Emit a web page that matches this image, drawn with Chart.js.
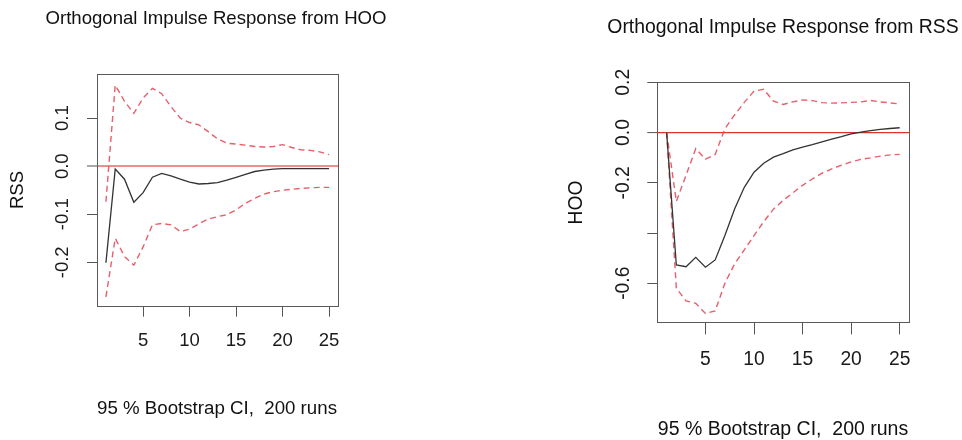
<!DOCTYPE html>
<html><head><meta charset="utf-8">
<script src="https://cdn.jsdelivr.net/npm/chart.js@4.4.1/dist/chart.umd.min.js"></script>
<style>
html,body{margin:0;padding:0;background:#fff;width:962px;height:440px;overflow:hidden;}
.wrap{position:absolute;top:0;width:481px;height:440px;}
canvas{position:absolute;top:0;left:0;}
.txt{position:absolute;font-family:"Liberation Sans",Arial,Helvetica,sans-serif;color:#111;white-space:nowrap;transform:translate(-50%,-50%);line-height:1;}
</style></head><body>
<div class="wrap" style="left:0"><canvas id="c1" width="481" height="440"></canvas></div>
<div class="wrap" style="left:481px"><canvas id="c2" width="481" height="440"></canvas></div>
<div class="txt" style="left:216px;top:18px;font-size:18.6px">Orthogonal Impulse Response from HOO</div>
<div class="txt" style="left:783px;top:27px;font-size:19.4px">Orthogonal Impulse Response from RSS</div>
<div class="txt" style="left:217px;top:408px;font-size:18.7px">95 % Bootstrap CI,&nbsp; 200 runs</div>
<div class="txt" style="left:783px;top:429px;font-size:19.5px">95 % Bootstrap CI,&nbsp; 200 runs</div>
<script>
// ---- data ----
const steps = [1,2,3,4,5,6,7,8,9,10,11,12,13,14,15,16,17,18,19,20,21,22,23,24,25];

const hooRssIrf   = [-0.201,-0.006,-0.027,-0.075,-0.055,-0.023,-0.015,-0.020,-0.027,-0.033,-0.037,-0.036,-0.034,-0.029,-0.023,-0.017,-0.011,-0.008,-0.006,-0.005,-0.005,-0.005,-0.005,-0.005,-0.005];
const hooRssUpper = [-0.074,0.169,0.135,0.110,0.142,0.162,0.151,0.124,0.100,0.091,0.086,0.072,0.057,0.048,0.046,0.044,0.041,0.040,0.041,0.045,0.039,0.034,0.033,0.030,0.024];
const hooRssLower = [-0.272,-0.150,-0.188,-0.206,-0.168,-0.122,-0.119,-0.122,-0.136,-0.131,-0.120,-0.110,-0.105,-0.101,-0.091,-0.077,-0.067,-0.058,-0.053,-0.050,-0.048,-0.046,-0.045,-0.044,-0.044];

const rssHooIrf   = [0.000,-0.527,-0.534,-0.497,-0.536,-0.507,-0.410,-0.304,-0.218,-0.158,-0.122,-0.098,-0.084,-0.069,-0.058,-0.048,-0.037,-0.026,-0.016,-0.005,0.002,0.008,0.013,0.016,0.019];
const rssHooUpper = [0.000,-0.274,-0.170,-0.064,-0.106,-0.087,0.015,0.070,0.120,0.165,0.172,0.125,0.112,0.122,0.130,0.127,0.119,0.117,0.118,0.120,0.122,0.128,0.122,0.118,0.114];
const rssHooLower = [0.000,-0.620,-0.670,-0.680,-0.720,-0.710,-0.600,-0.523,-0.467,-0.410,-0.355,-0.305,-0.270,-0.240,-0.210,-0.185,-0.162,-0.145,-0.130,-0.117,-0.107,-0.101,-0.094,-0.089,-0.087];

const xTicks = [5,10,15,20,25];
const xTickLabels = ['5','10','15','20','25'];
const leftYTicks = [-0.2,-0.1,0,0.1];
const leftYTickLabels = ['-0.2','-0.1','0.0','0.1'];
const rightYTicks = [-0.6,-0.4,-0.2,0,0.2];
const rightYTickLabels = ['-0.6','','-0.2','0.0','0.2'];

// ---- styling ----
Chart.defaults.font.family = '"Liberation Sans", Arial, Helvetica, sans-serif';
Chart.defaults.color = '#1a1a1a';
const FONT = '"Liberation Sans", Arial, Helvetica, sans-serif';

const boxPlugin = {
  id: 'rbox',
  afterDatasetsDraw(chart) {
    const a = chart.chartArea, ctx = chart.ctx;
    ctx.save();
    ctx.strokeStyle = '#5a5a5a';
    ctx.lineWidth = 1;
    ctx.strokeRect(Math.round(a.left)+0.5, Math.round(a.top)+0.5, Math.round(a.right-a.left), Math.round(a.bottom-a.top));
    ctx.restore();
  }
};

function toXY(arr){ return steps.map((s,i)=>({x:s,y:arr[i]})); }

function makeChart(id, cfg) {
  const ds = (arr, color, dash, w) => ({
    data: toXY(arr), borderColor: color, borderWidth: w, borderDash: dash,
    pointRadius: 0, tension: 0, fill: false
  });
  return new Chart(document.getElementById(id), {
    type: 'line',
    data: { datasets: [
      ds(cfg.irf, '#333333', [], 1.3),
      ds(cfg.upper, 'rgba(228,78,90,0.9)', [6,4], 1.4),
      ds(cfg.lower, 'rgba(228,78,90,0.9)', [6,4], 1.4)
    ]},
    options: {
      responsive: false, animation: false, devicePixelRatio: 1,
      layout: { padding: cfg.pad },
      plugins: { legend: {display:false}, tooltip: {enabled:false}, title:{display:false} },
      scales: {
        x: {
          type: 'linear', min: 0.04, max: 25.96, bounds: 'data',
          afterBuildTicks: s => { s.ticks = xTicks.map(v=>({value:v})); },
          afterFit: s => { s.height = 60; },
          ticks: { autoSkip:false, maxRotation:0, minRotation:0, padding: cfg.xPad,
                   font:{size:cfg.fs, family:FONT}, color:'#1a1a1a',
                   callback: (v,i) => xTickLabels[i] },
          grid: { drawOnChartArea:false, drawTicks:true, tickLength: cfg.tl, tickColor:'#555', tickWidth:1 },
          border: { display:false }
        },
        y: {
          type: 'linear', min: cfg.ymin, max: cfg.ymax, bounds: 'data',
          afterBuildTicks: s => { s.ticks = cfg.yTicks.map(v=>({value:v})); },
          afterFit: s => { s.width = cfg.yW; },
          ticks: { autoSkip:false, minRotation:90, maxRotation:90, crossAlign:'center', padding: cfg.yPad,
                   font:{size:cfg.fs, family:FONT}, color:'#1a1a1a',
                   callback: (v,i) => cfg.yLabels[i] },
          grid: { drawOnChartArea:true, drawTicks:true, tickLength: 10, tickColor:'#555', tickWidth:1,
                  color: c => (c.tick && c.tick.value === 0) ? cfg.zeroColor : 'rgba(0,0,0,0)',
                  lineWidth: c => (c.tick && c.tick.value === 0) ? cfg.zeroW : 1 },
          border: { display:false },
          title: { display:true, text: cfg.yTitle, color:'#111', font:{size:cfg.fs, family:FONT},
                   padding:{top: cfg.titlePad, bottom:0} }
        }
      }
    },
    plugins: [boxPlugin]
  });
}

makeChart('c1', {
  irf: hooRssIrf, upper: hooRssUpper, lower: hooRssLower,
  ymin: -0.291, ymax: 0.192, yTicks: leftYTicks, yLabels: leftYTickLabels, yTitle: 'RSS',
  pad: {left:0, top:74, right:143, bottom:74}, yW: 97, fs: 18.5, tl: 10.7,
  xPad: 13.5, yPad: 8, titlePad: 7, zeroColor: 'rgb(245,140,140)', zeroW: 2
});
makeChart('c2', {
  irf: rssHooIrf, upper: rssHooUpper, lower: rssHooLower,
  ymin: -0.757, ymax: 0.2, yTicks: rightYTicks, yLabels: rightYTickLabels, yTitle: 'HOO',
  pad: {left:76.3, top:82.3, right:53, bottom:57.3}, yW: 100, fs: 19.3, tl: 11.7,
  xPad: 14, yPad: 7, titlePad: 7.8, zeroColor: 'rgb(225,50,50)', zeroW: 1.2
});
</script>
</body></html>
